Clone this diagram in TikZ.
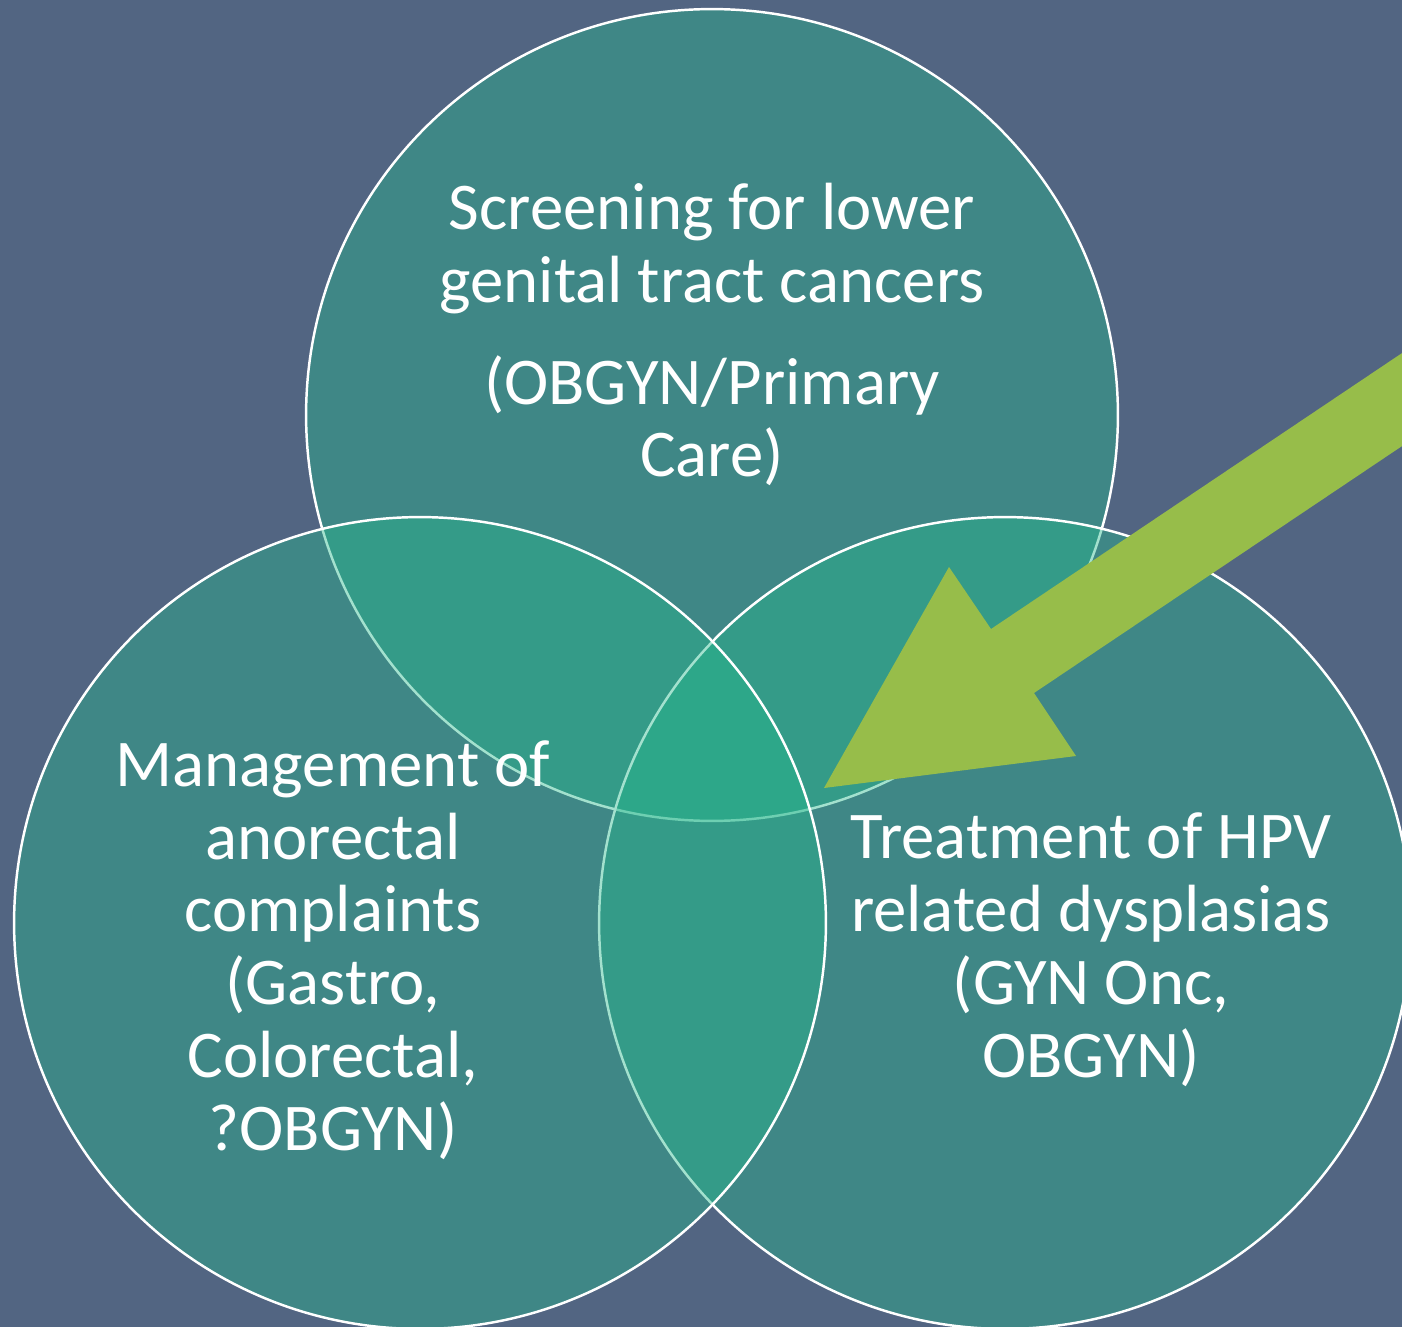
\documentclass[tikz,border=0pt]{standalone}
\usepackage{fontspec}
\setmainfont{Carlito}
\usepackage{tikz}

\definecolor{slate}{RGB}{82,101,130}
\definecolor{vennteal}{RGB}{37,184,140}
\definecolor{arrowgreen}{RGB}{151,189,74}

\begin{document}
\begin{tikzpicture}[x=0.02cm, y=-0.02cm,
                venn/.style={fill=vennteal,fill opacity=0.42,draw=white,draw opacity=1,line width=1.4pt},
                label text/.style={text=white,align=center,anchor=base,inner sep=0pt,
                  font=\fontsize{38}{41.4}\selectfont},
                ]
                \def\R{8.12cm}
                \fill[slate] (0,0) rectangle (1402,1327);
                \clip (0,0) rectangle (1402,1327);

                % three overlapping circles
                \filldraw[venn] (712,415) circle[radius=\R];
                \filldraw[venn] (1005,923) circle[radius=\R];
                \filldraw[venn] (420,923) circle[radius=\R];

                % base anchor sits on the last line
                \node[label text] (screening) at (712,477) {Screening for lower\\genital tract cancers\\[0.58cm](OBGYN/Primary\\Care)};
                \node[label text] (management) at (333,1150) {Management of\\anorectal\\complaints\\(Gastro,\\Colorectal,\\?OBGYN)};
                \node[label text] (treatment) at (1091,1077) {Treatment of HPV\\related dysplasias\\(GYN Onc,\\OBGYN)};

                % block arrow into the middle
                \fill[arrowgreen] (824,788) -- (949,567) -- (991,629) -- (1420,341)
                  -- (1420,434) -- (1034,693) -- (1076,756) -- cycle;
            \end{tikzpicture}
\end{document}
